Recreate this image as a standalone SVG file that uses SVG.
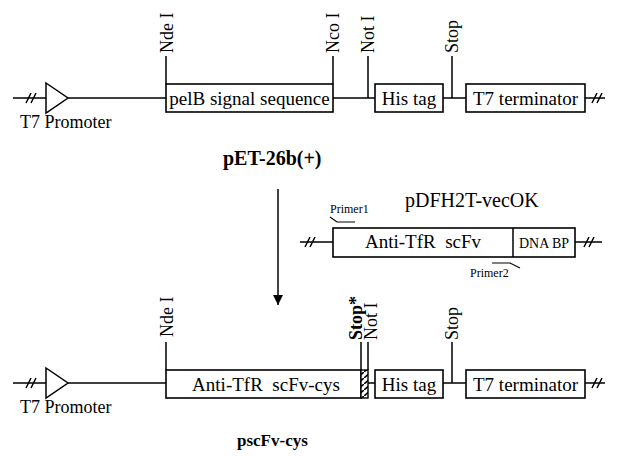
<svg xmlns="http://www.w3.org/2000/svg" width="618" height="456" viewBox="0 0 618 456">
<style>
  text { font-family: "Liberation Serif", "Times New Roman", serif; fill: #000; }
  .lbl { font-size: 18px; }
  .box { font-size: 19px; text-anchor: middle; }
  .bold { font-weight: bold; font-size: 18px; }
  .sm { font-size: 12px; }
  .ln { stroke: #000; stroke-width: 1.5; fill: none; }
  .bx { stroke: #000; stroke-width: 1.6; fill: #fff; }
  .pre { white-space: pre; }
</style>
<defs>
  <pattern id="hatch" patternUnits="userSpaceOnUse" width="7" height="6">
    <rect width="7" height="6" fill="#fff"/>
    <path d="M0,6 L7,0" stroke="#000" stroke-width="1.6"/>
  </pattern>
  <marker id="arr" viewBox="0 0 10 10" refX="10" refY="5" markerWidth="10" markerHeight="10" markerUnits="userSpaceOnUse" orient="auto">
    <path d="M0,0 L10,5 L0,10 Z" fill="#000"/>
  </marker>
</defs>

<!-- Top construct: pET-26b(+) -->
<g id="connectors-top">
  <path class="ln" d="M13,98 H46 M68,98 H166 M333,98 H375 M443,98 H466 M585,98 H605"/>
  <path class="ln" d="M26,103 L31,93 M31,103 L36,93"/>
  <path class="ln" d="M592,103 L597,93 M597,103 L602,93"/>
  <path class="ln" d="M166,56 V84 M333,56 V84 M368,56 V98 M452,56 V98"/>
</g>
<g id="t7-promoter-top">
  <path class="ln" d="M46,83 L68,98 L46,113 Z" fill="#fff"/>
  <text class="lbl" x="20" y="128">T7 Promoter</text>
</g>
<g id="pelB">
  <rect class="bx" x="166" y="84" width="167" height="28"/>
  <text class="box" x="249.5" y="105">pelB signal sequence</text>
</g>
<g id="histag-top">
  <rect class="bx" x="375" y="84" width="68" height="28"/>
  <text class="box" x="409" y="105">His tag</text>
</g>
<g id="t7term-top">
  <rect class="bx" x="466" y="84" width="119" height="28"/>
  <text class="box" x="525.5" y="105">T7 terminator</text>
</g>
<g id="sites-top">
  <text class="lbl" transform="translate(173,53) rotate(-90)">Nde I</text>
  <text class="lbl" transform="translate(339,53) rotate(-90)">Nco I</text>
  <text class="lbl" transform="translate(374,53) rotate(-90)">Not I</text>
  <text class="lbl" transform="translate(458,53) rotate(-90)">Stop</text>
</g>
<g id="title-top">
  <text class="bold" x="223" y="165" style="font-size:20px">pET-26b(+)</text>
</g>

<!-- Arrow -->
<g id="arrow">
  <path class="ln" d="M278,189 V305" marker-end="url(#arr)"/>
</g>

<!-- pDFH2T-vecOK -->
<g id="pdfh2t">
  <text x="405" y="207" style="font-size:20px">pDFH2T-vecOK</text>
  <path class="ln" d="M300,242 H333 M575,242 H602"/>
  <path class="ln" d="M305,247 L310,237 M310,247 L315,237"/>
  <path class="ln" d="M584,247 L589,237 M589,247 L594,237"/>
  <rect class="bx" x="333" y="228" width="242" height="29"/>
  <path class="ln" d="M513,228 V257"/>
  <text class="box pre" x="423" y="248">Anti-TfR  scFv</text>
  <text x="544" y="248" style="font-size:14px;text-anchor:middle">DNA BP</text>
  <path class="ln" d="M330,217 L337,222 H355" style="stroke-width:1.2"/>
  <text class="sm" x="330" y="213">Primer1</text>
  <path class="ln" d="M492,263 H510 L520,268" style="stroke-width:1.2"/>
  <text class="sm" x="470" y="277">Primer2</text>
</g>

<!-- Bottom construct: pscFv-cys -->
<g id="connectors-bottom">
  <path class="ln" d="M13,383 H46 M68,383 H166 M368,383 H375 M443,383 H466 M585,383 H605"/>
  <path class="ln" d="M26,388 L31,378 M31,388 L36,378"/>
  <path class="ln" d="M592,388 L597,378 M597,388 L602,378"/>
  <path class="ln" d="M166,342 V370 M361,342 V370 M368,342 V370 M452,342 V383"/>
</g>
<g id="t7-promoter-bottom">
  <path class="ln" d="M46,368 L68,383 L46,398 Z" fill="#fff"/>
  <text class="lbl" x="20" y="413">T7 Promoter</text>
</g>
<g id="scfv-cys">
  <rect class="bx" x="166" y="370" width="195" height="28"/>
  <rect x="361" y="370" width="7" height="28" fill="url(#hatch)" stroke="#000" stroke-width="1.4"/>
  <text class="box pre" x="266" y="391">Anti-TfR  scFv-cys</text>
</g>
<g id="histag-bottom">
  <rect class="bx" x="375" y="370" width="68" height="28"/>
  <text class="box" x="409" y="391">His tag</text>
</g>
<g id="t7term-bottom">
  <rect class="bx" x="466" y="370" width="119" height="28"/>
  <text class="box" x="525.5" y="391">T7 terminator</text>
</g>
<g id="sites-bottom">
  <text class="lbl" transform="translate(173,337) rotate(-90)">Nde I</text>
  <text class="bold" transform="translate(362,340) rotate(-90)">Stop*</text>
  <text class="lbl" transform="translate(377,340) rotate(-90)">Not I</text>
  <text class="lbl" transform="translate(458,340) rotate(-90)">Stop</text>
</g>
<g id="title-bottom">
  <text class="bold" x="237" y="446" style="font-size:17px">pscFv-cys</text>
</g>
</svg>
